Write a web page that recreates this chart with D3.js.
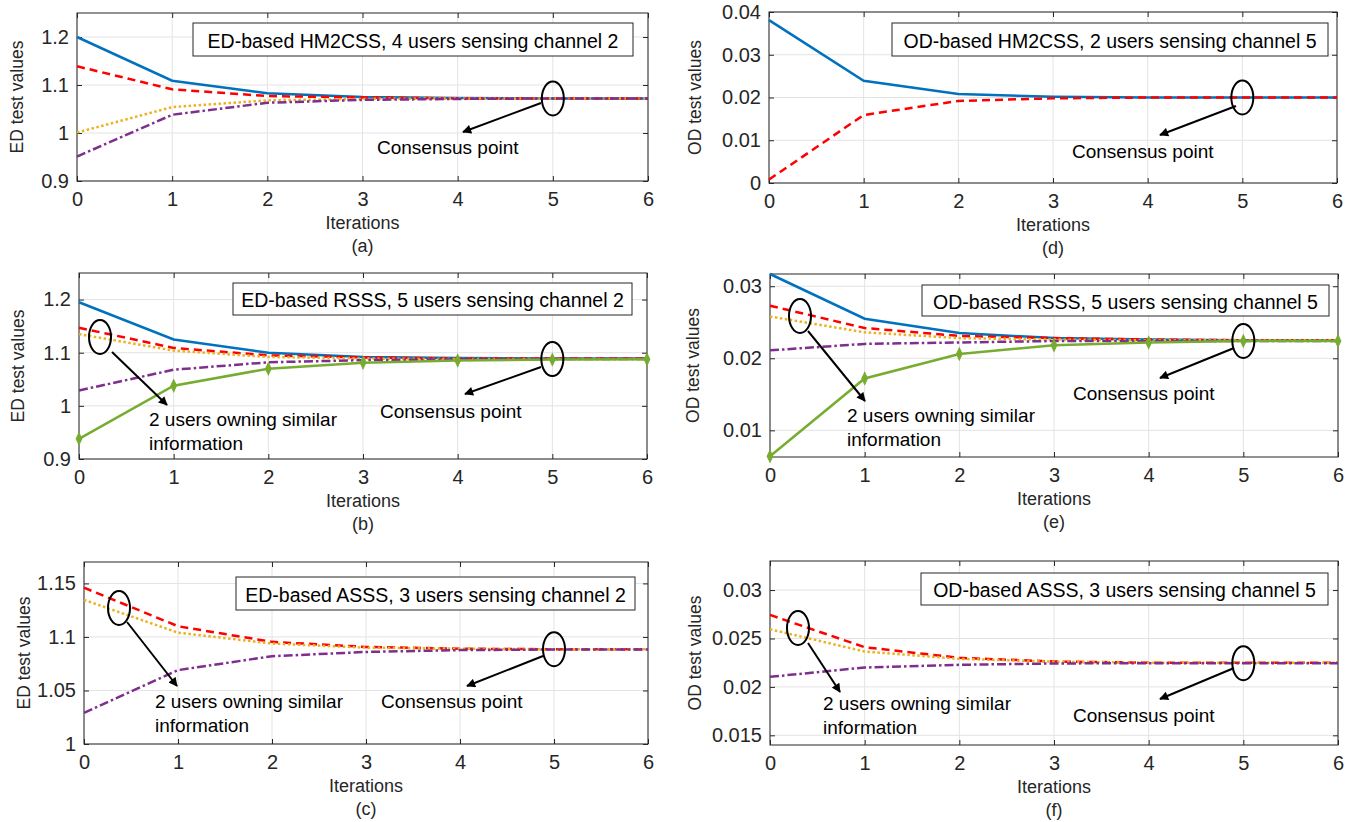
<!DOCTYPE html>
<html>
<head>
<meta charset="utf-8">
<script src="https://cdn.jsdelivr.net/npm/d3@7"></script>
<style>
    body { margin: 0; background: #fff; }
    svg { display: block; font-family: "Liberation Sans", Arial, sans-serif; }
</style>
</head>
<body>
<svg id="chart" width="1354" height="822"></svg>
<script>
// x axis for all panels
var iterations = [0, 1, 2, 3, 4, 5, 6];

// (a) ED-based HM2CSS
var aUser1 = [1.200, 1.109, 1.083, 1.075, 1.073, 1.072, 1.072];
var aUser2 = [1.139, 1.091, 1.077, 1.074, 1.072, 1.072, 1.072];
var aUser3 = [1.001, 1.054, 1.068, 1.071, 1.072, 1.072, 1.072];
var aUser4 = [0.951, 1.038, 1.063, 1.069, 1.071, 1.072, 1.072];
var aTicks = [0.9, 1, 1.1, 1.2];

// (d) OD-based HM2CSS
var dUser1 = [0.0381, 0.0239, 0.0208, 0.0202, 0.0200, 0.0200, 0.0200];
var dUser2 = [0.0008, 0.0159, 0.0192, 0.0198, 0.0200, 0.0200, 0.0200];
var dTicks = [0, 0.01, 0.02, 0.03, 0.04];

// (b) ED-based RSSS
var bUser1 = [1.195, 1.125, 1.100, 1.092, 1.090, 1.089, 1.089];
var bUser2 = [1.147, 1.109, 1.095, 1.091, 1.089, 1.089, 1.089];
var bUser3 = [1.135, 1.104, 1.092, 1.089, 1.088, 1.088, 1.088];
var bUser4 = [1.029, 1.068, 1.082, 1.086, 1.0875, 1.088, 1.088];
var bUser5 = [0.938, 1.038, 1.070, 1.081, 1.0855, 1.087, 1.0875];
var bTicks = [0.9, 1, 1.1, 1.2];

// (e) OD-based RSSS
var eUser1 = [0.0317, 0.0255, 0.0235, 0.0228, 0.0226, 0.0225, 0.0225];
var eUser2 = [0.0273, 0.0242, 0.0231, 0.0228, 0.0226, 0.0225, 0.0225];
var eUser3 = [0.0258, 0.0236, 0.0228, 0.0226, 0.0225, 0.0225, 0.0225];
var eUser4 = [0.0211, 0.0220, 0.0222, 0.0224, 0.0224, 0.0224, 0.0224];
var eUser5 = [0.0064, 0.0172, 0.0206, 0.0218, 0.0222, 0.0224, 0.0224];
var eTicks = [0.01, 0.02, 0.03];

// (c) ED-based ASSS
var cUser1 = [1.146, 1.110, 1.0954, 1.0907, 1.089, 1.0885, 1.0885];
var cUser2 = [1.1346, 1.104, 1.0938, 1.090, 1.089, 1.0885, 1.0885];
var cUser3 = [1.029, 1.069, 1.082, 1.086, 1.0877, 1.0883, 1.0883];
var cTicks = [1, 1.05, 1.1, 1.15];

// (f) OD-based ASSS
var fUser1 = [0.02743, 0.0241, 0.0230, 0.02262, 0.0225, 0.0225, 0.0225];
var fUser2 = [0.02595, 0.02365, 0.0229, 0.0226, 0.0225, 0.0225, 0.0225];
var fUser3 = [0.02104, 0.0220, 0.02228, 0.02242, 0.02245, 0.02245, 0.02245];
var fTicks = [0.015, 0.02, 0.025, 0.03];

// line styles (matlab default colours)
var styles = {
    blue: {color: '#0072BD', dash: null},
    red: {color: '#FF0000', dash: '8,5'},
    yellow: {color: '#EDB120', dash: '2.5,2.5'},
    purple: {color: '#7E2F8E', dash: '9,3,2.5,3'},
    green: {color: '#77AC30', dash: null, marker: true}
};

var tickFont = '"Liberation Sans Narrow", "Liberation Sans", Arial, sans-serif';

var panels = [
    {id: 'a', left: 77, right: 648, top: 13, bottom: 181, yDomain: [0.9, 1.25], ticks: aTicks,
        ylabel: 'ED test values', ylabelX: 17,
        series: [[aUser1, 'blue'], [aUser2, 'red'], [aUser3, 'yellow'], [aUser4, 'purple']],
        box: {x: 193, y: 23, w: 440, h: 33, text: 'ED-based HM2CSS, 4 users sensing channel 2'},
        consensus: {value: 1.072, arrow: [541, 103, 463, 132], textX: 377, textY: 147},
        similar: null},
    {id: 'd', left: 769, right: 1337, top: 12, bottom: 183, yDomain: [0, 0.04], ticks: dTicks,
        ylabel: 'OD test values', ylabelX: 695,
        series: [[dUser1, 'blue'], [dUser2, 'red']],
        box: {x: 892, y: 23, w: 436, h: 33, text: 'OD-based HM2CSS, 2 users sensing channel 5'},
        consensus: {value: 0.0200, arrow: [1236, 106, 1160, 135], textX: 1072, textY: 151},
        similar: null},
    {id: 'b', left: 79, right: 647, top: 273, bottom: 459, yDomain: [0.9, 1.25], ticks: bTicks,
        ylabel: 'ED test values', ylabelX: 18,
        series: [[bUser1, 'blue'], [bUser2, 'red'], [bUser3, 'yellow'], [bUser4, 'purple'], [bUser5, 'green']],
        box: {x: 233, y: 283, w: 399, h: 32, text: 'ED-based RSSS, 5 users sensing channel 2'},
        consensus: {value: 1.088, arrow: [541, 367, 465, 394], textX: 380, textY: 411},
        similar: {cx: 100, cy: 337, arrow: [112, 352, 167, 405], textX: 149, textY: 419}},
    {id: 'e', left: 770, right: 1338, top: 274, bottom: 457, yDomain: [0.0063, 0.0317], ticks: eTicks,
        ylabel: 'OD test values', ylabelX: 693,
        series: [[eUser1, 'blue'], [eUser2, 'red'], [eUser3, 'yellow'], [eUser4, 'purple'], [eUser5, 'green']],
        box: {x: 922, y: 285, w: 407, h: 31, text: 'OD-based RSSS, 5 users sensing channel 5'},
        consensus: {value: 0.0224, arrow: [1234, 348, 1160, 378], textX: 1073, textY: 393},
        similar: {cx: 800, cy: 316, arrow: [808, 331, 865, 401], textX: 847, textY: 415}},
    {id: 'c', left: 84, right: 648, top: 562, bottom: 744, yDomain: [1, 1.17], ticks: cTicks,
        ylabel: 'ED test values', ylabelX: 24,
        series: [[cUser1, 'red'], [cUser2, 'yellow'], [cUser3, 'purple']],
        box: {x: 236, y: 577, w: 399, h: 33, text: 'ED-based ASSS, 3 users sensing channel 2'},
        consensus: {value: 1.0885, arrow: [543, 656, 467, 686], textX: 381, textY: 701},
        similar: {cx: 119, cy: 608, arrow: [127, 622, 177, 686], textX: 155, textY: 701}},
    {id: 'f', left: 770, right: 1338, top: 561, bottom: 745, yDomain: [0.014, 0.033], ticks: fTicks,
        ylabel: 'OD test values', ylabelX: 695,
        series: [[fUser1, 'red'], [fUser2, 'yellow'], [fUser3, 'purple']],
        box: {x: 921, y: 573, w: 407, h: 32, text: 'OD-based ASSS, 3 users sensing channel 5'},
        consensus: {value: 0.02245, arrow: [1234, 668, 1160, 699], textX: 1073, textY: 715},
        similar: {cx: 798, cy: 628, arrow: [808, 643, 840, 692], textX: 823, textY: 703}}
];

var svg = d3.select('#chart');

// arrow head marker
svg.append('defs').append('marker')
    .attr('id', 'arrowHead')
    .attr('viewBox', '0 0 10 10')
    .attr('refX', 9).attr('refY', 5)
    .attr('markerWidth', 5).attr('markerHeight', 4.5)
    .attr('markerUnits', 'strokeWidth')
    .attr('orient', 'auto')
    .append('path').attr('d', 'M0,0 L10,5 L0,10 z').attr('fill', '#000');

function drawArrow(g, a) {
    g.append('line')
        .attr('x1', a[0]).attr('y1', a[1]).attr('x2', a[2]).attr('y2', a[3])
        .attr('stroke', '#000').attr('stroke-width', 2)
        .attr('marker-end', 'url(#arrowHead)');
}

function drawPanel(p) {
    var g = svg.append('g').attr('class', 'panel_' + p.id);
    var x = d3.scaleLinear().domain([0, 6]).range([p.left, p.right]);
    var y = d3.scaleLinear().domain(p.yDomain).range([p.bottom, p.top]);

    // grid
    g.selectAll('.vgrid').data(iterations).enter().append('line')
        .attr('x1', function (d) { return x(d); }).attr('x2', function (d) { return x(d); })
        .attr('y1', p.top).attr('y2', p.bottom)
        .attr('stroke', '#e3e3e3').attr('stroke-width', 1);
    g.selectAll('.hgrid').data(p.ticks).enter().append('line')
        .attr('x1', p.left).attr('x2', p.right)
        .attr('y1', function (d) { return y(d); }).attr('y2', function (d) { return y(d); })
        .attr('stroke', '#e3e3e3').attr('stroke-width', 1);

    // axes with inside ticks on all sides
    var fmt = function (d) { return String(d); };
    var bottomAxis = g.append('g').attr('transform', 'translate(0,' + p.bottom + ')')
        .call(d3.axisBottom(x).tickValues(iterations).tickSizeInner(-5).tickSizeOuter(0).tickPadding(11).tickFormat(fmt));
    var topAxis = g.append('g').attr('transform', 'translate(0,' + p.top + ')')
        .call(d3.axisTop(x).tickValues(iterations).tickSizeInner(-5).tickSizeOuter(0).tickFormat(''));
    var leftAxis = g.append('g').attr('transform', 'translate(' + p.left + ',0)')
        .call(d3.axisLeft(y).tickValues(p.ticks).tickSizeInner(-5).tickSizeOuter(0).tickPadding(8).tickFormat(fmt));
    var rightAxis = g.append('g').attr('transform', 'translate(' + p.right + ',0)')
        .call(d3.axisRight(y).tickValues(p.ticks).tickSizeInner(-5).tickSizeOuter(0).tickFormat(''));
    [bottomAxis, topAxis, leftAxis, rightAxis].forEach(function (ax) {
        ax.select('.domain').remove();
        ax.selectAll('line').attr('stroke', '#262626');
        ax.selectAll('text').attr('font-size', 20).attr('fill', '#262626')
            .attr('font-family', tickFont);
    });

    // frame
    g.append('rect')
        .attr('x', p.left).attr('y', p.top)
        .attr('width', p.right - p.left).attr('height', p.bottom - p.top)
        .attr('fill', 'none').attr('stroke', '#262626').attr('stroke-width', 1);

    // series
    var line = d3.line()
        .x(function (d, i) { return x(iterations[i]); })
        .y(function (d) { return y(d); });
    p.series.forEach(function (s) {
        var st = styles[s[1]];
        var path = g.append('path').datum(s[0])
            .attr('d', line)
            .attr('fill', 'none')
            .attr('stroke', st.color)
            .attr('stroke-width', 2.5);
        if (st.dash) {
            path.attr('stroke-dasharray', st.dash);
        }
        if (st.marker) {
            g.selectAll('.mk').data(s[0]).enter().append('path')
                .attr('d', d3.symbol().type(d3.symbolDiamond).size(36))
                .attr('transform', function (d, i) { return 'translate(' + x(iterations[i]) + ',' + y(d) + ') scale(0.9,1.1)'; })
                .attr('fill', st.color).attr('stroke', st.color);
        }
    });

    // axis labels
    g.append('text')
        .attr('x', (p.left + p.right) / 2).attr('y', p.bottom + 42)
        .attr('text-anchor', 'middle').attr('dominant-baseline', 'central')
        .attr('font-size', 18).attr('fill', '#262626')
        .attr('font-family', tickFont)
        .text('Iterations');
    g.append('text')
        .attr('x', (p.left + p.right) / 2).attr('y', p.bottom + 65)
        .attr('text-anchor', 'middle').attr('dominant-baseline', 'central')
        .attr('font-size', 18).attr('fill', '#262626')
        .attr('font-family', tickFont)
        .text('(' + p.id + ')');
    g.append('text')
        .attr('transform', 'translate(' + p.ylabelX + ',' + (p.top + p.bottom) / 2 + ') rotate(-90)')
        .attr('text-anchor', 'middle').attr('dominant-baseline', 'central')
        .attr('font-size', 17.5).attr('fill', '#262626')
        .text(p.ylabel);

    // title box
    g.append('rect')
        .attr('x', p.box.x).attr('y', p.box.y).attr('width', p.box.w).attr('height', p.box.h)
        .attr('fill', '#fff').attr('stroke', '#262626').attr('stroke-width', 1);
    g.append('text')
        .attr('x', p.box.x + p.box.w / 2).attr('y', p.box.y + p.box.h / 2 + 1)
        .attr('text-anchor', 'middle').attr('dominant-baseline', 'central')
        .attr('font-size', 19.5).attr('fill', '#000')
        .text(p.box.text);

    // consensus annotation
    g.append('ellipse')
        .attr('cx', x(5)).attr('cy', y(p.consensus.value))
        .attr('rx', 11).attr('ry', 17)
        .attr('fill', 'none').attr('stroke', '#000').attr('stroke-width', 2);
    drawArrow(g, p.consensus.arrow);
    g.append('text')
        .attr('x', p.consensus.textX).attr('y', p.consensus.textY)
        .attr('dominant-baseline', 'central')
        .attr('font-size', 19).attr('fill', '#000')
        .text('Consensus point');

    // similar users annotation
    if (p.similar) {
        g.append('ellipse')
            .attr('cx', p.similar.cx).attr('cy', p.similar.cy)
            .attr('rx', 11).attr('ry', 17)
            .attr('fill', 'none').attr('stroke', '#000').attr('stroke-width', 2);
        drawArrow(g, p.similar.arrow);
        g.append('text')
            .attr('x', p.similar.textX).attr('y', p.similar.textY)
            .attr('dominant-baseline', 'central')
            .attr('font-size', 19).attr('fill', '#000')
            .text('2 users owning similar');
        g.append('text')
            .attr('x', p.similar.textX).attr('y', p.similar.textY + 24)
            .attr('dominant-baseline', 'central')
            .attr('font-size', 19).attr('fill', '#000')
            .text('information');
    }
}

panels.forEach(drawPanel);
</script>
</body>
</html>
